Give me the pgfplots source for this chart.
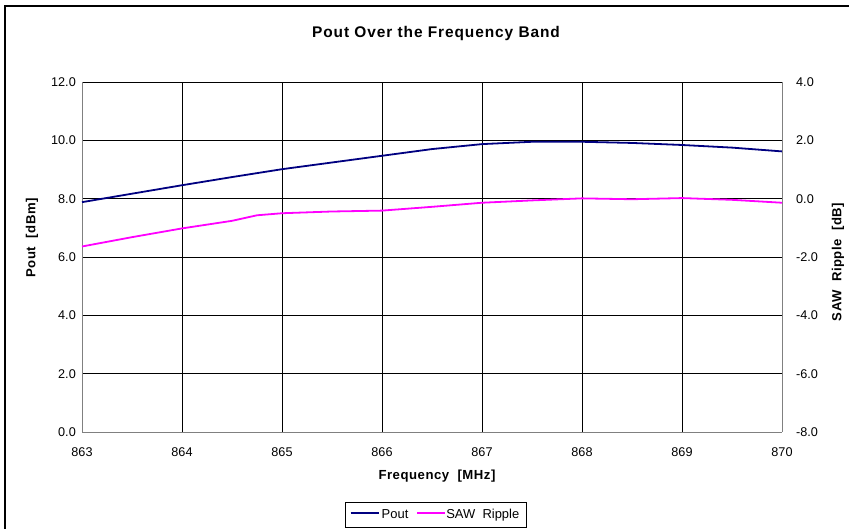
\documentclass[border=0pt]{standalone}
\usepackage{fontspec}
\setmainfont{Liberation Sans}
\usepackage{pgfplots}
\pgfplotsset{compat=1.18}
\definecolor{navyline}{HTML}{000080}
\definecolor{magline}{HTML}{FF00FF}
\definecolor{axgray}{HTML}{808080}
\newcommand{\tickfont}{\fontsize{12.7}{14}\selectfont}
\newcommand{\labfont}{\fontsize{13.2}{15}\selectfont\bfseries\addfontfeature{LetterSpace=4}}
\newcommand{\legline}[1]{{\color{#1}\rule[0.3em]{28bp}{2bp}}}
\begin{document}
\begin{tikzpicture}[x=1bp,y=1bp]
\useasboundingbox (0,0) rectangle (849,529);
\draw[line width=1.5bp] (5,-20) -- (5,523) -- (870,523);
\begin{axis}[at={(82bp,97bp)}, anchor=south west, scale only axis,
  width=700bp, height=350bp,
  xmin=863, xmax=870, ymin=0, ymax=12,
  xtick={863,864,...,870}, ytick={0,2,...,12},
  grid=major, major grid style={black, line width=0.8bp},
  axis line style={axgray, line width=0.8bp},
  major tick length=0pt,
  /pgf/number format/assume math mode=true,
  xticklabel style={font=\tickfont, inner sep=0pt, yshift=-15bp, /pgf/number format/set thousands separator={}},
  yticklabel style={font=\tickfont, inner sep=0pt, xshift=-6bp, /pgf/number format/fixed, /pgf/number format/fixed zerofill, /pgf/number format/precision=1},
  axis y line*=left, axis x line*=bottom,
  clip=false]
\addplot[navyline, line width=1.8bp] coordinates {
(863,7.88) (863.5,8.17) (864,8.46) (864.5,8.74) (865,9.01) (865.5,9.24) (866,9.47) (866.5,9.70) (867,9.87) (867.5,9.95) (868,9.95) (868.5,9.91) (869,9.84) (869.5,9.75) (870,9.62)};
\end{axis}
\begin{axis}[at={(82bp,97bp)}, anchor=south west, scale only axis,
  width=700bp, height=350bp,
  xmin=863, xmax=870, ymin=-8, ymax=4,
  ytick={-8,-6,...,4},
  hide x axis, axis y line*=right,
  axis line style={axgray, line width=0.8bp},
  major tick length=0pt,
  /pgf/number format/assume math mode=true,
  yticklabel style={font=\tickfont, inner sep=0pt, xshift=14bp, /pgf/number format/fixed, /pgf/number format/fixed zerofill, /pgf/number format/precision=1},
  clip=false]
\addplot[magline, line width=1.8bp] coordinates {
(863,-1.64) (863.5,-1.32) (864,-1.02) (864.5,-0.76) (864.75,-0.57) (865,-0.50) (865.5,-0.44) (866,-0.41) (866.5,-0.28) (867,-0.14) (867.5,-0.06) (868,0.01) (868.5,-0.02) (869,0.02) (869.5,-0.04) (870,-0.14)};
\end{axis}
\node[font=\fontsize{15.5}{17}\selectfont\bfseries\addfontfeature{LetterSpace=6}] at (436,495) {Pout Over the Frequency Band};
\node[font=\labfont] at (437,53) {Frequency\ \ [MHz]};
\node[font=\labfont, rotate=90] at (32,291) {Pout\ \ [dBm]};
\node[font=\labfont, rotate=90] at (838,267) {SAW\ \ Ripple\ \ [dB]};
\node[draw=black, line width=0.7bp, fill=white, inner xsep=0pt, inner ysep=0pt, minimum height=25bp, font=\fontsize{13}{15}\selectfont] at (436,14)
  {\kern5bp\legline{navyline}\kern3bp Pout\kern9bp\legline{magline}\kern1bp SAW\ \ Ripple\kern7bp};
\end{tikzpicture}
\end{document}
